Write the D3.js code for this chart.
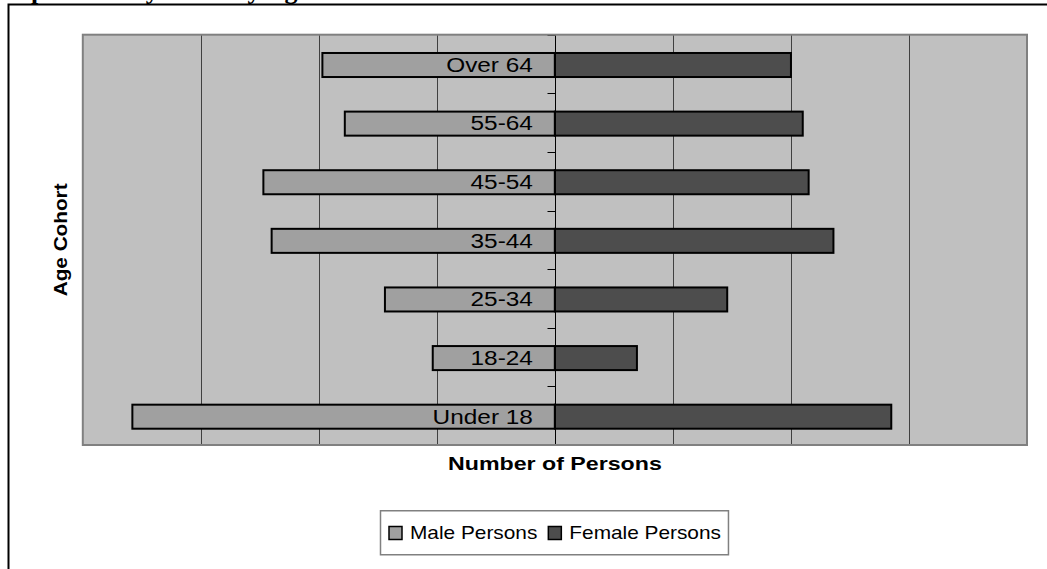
<!DOCTYPE html>
<html>
<head>
<meta charset="utf-8">
<script src="https://cdn.jsdelivr.net/npm/d3@7"></script>
<style>
  html, body { margin: 0; padding: 0; background: #fff; overflow: hidden; }
  text { font-family: "Liberation Sans", Arial, sans-serif; fill: #000; }
</style>
</head>
<body>
<svg id="chart" width="1047" height="569"></svg>
<script>
// Age cohorts, top to bottom
const categories = ["Over 64", "55-64", "45-54", "35-44", "25-34", "18-24", "Under 18"];
// Persons per cohort
const malePersons   = [1970, 1780, 2470, 2400, 1440, 1035, 3580];
const femalePersons = [2000, 2100, 2150, 2360, 1460,  695, 2850];
// Value axis gridline positions
const xTicks = [-4000, -3000, -2000, -1000, 0, 1000, 2000, 3000, 4000];
const seriesNames = ["Male Persons", "Female Persons"];
const seriesColors = ["#a0a0a0", "#4d4d4d"];

const svg = d3.select("#chart");
const W = 1047, H = 569;
const plot = { left: 82.8, right: 1027, top: 34.7, bottom: 445 };

// Widen a text run horizontally (the chart's type is set slightly wide);
// returns the resulting width
function widen(sel, k) {
  let total = 0;
  sel.each(function () {
    const w = this.getComputedTextLength() * k;
    this.setAttribute("textLength", w);
    this.setAttribute("lengthAdjust", "spacingAndGlyphs");
    total = w;
  });
  return total;
}

// Page title, running off the top edge
svg.append("text")
  .attr("x", 2).attr("y", -1)
  .style("font-family", "'Liberation Serif', 'Times New Roman', serif")
  .style("font-weight", "bold")
  .style("font-size", "26px")
  .text("Population Pyramid by Age Cohort");

// Outer chart frame
svg.append("rect")
  .attr("x", 8.5).attr("y", 4.5)
  .attr("width", W + 20).attr("height", H + 20)
  .attr("fill", "#fff")
  .attr("stroke", "#000").attr("stroke-width", 2);

const x = d3.scaleLinear().domain([-4000, 4000]).range([plot.left, plot.right]);
const y = d3.scaleBand().domain(categories)
  .range([plot.top, plot.bottom])
  .paddingInner(0.59).paddingOuter(0.295);

// Plot area background
svg.append("rect")
  .attr("x", plot.left).attr("y", plot.top)
  .attr("width", plot.right - plot.left).attr("height", plot.bottom - plot.top)
  .attr("fill", "#c0c0c0");

// Vertical gridlines
svg.append("g")
  .selectAll("line")
  .data(xTicks.filter(t => t !== 0 && Math.abs(t) < 4000))
  .join("line")
  .attr("x1", d => Math.round(x(d)) + 0.5).attr("x2", d => Math.round(x(d)) + 0.5)
  .attr("y1", plot.top).attr("y2", plot.bottom)
  .attr("stroke", "#404040").attr("stroke-width", 1);

// Bars
const rows = categories.map((c, i) => ({ c, m: malePersons[i], f: femalePersons[i] }));
const bars = svg.append("g");
bars.selectAll("rect.male")
  .data(rows).join("rect").attr("class", "male")
  .attr("x", d => x(-d.m)).attr("width", d => x(0) - x(-d.m))
  .attr("y", d => y(d.c) + 1).attr("height", y.bandwidth())
  .attr("fill", seriesColors[0]).attr("stroke", "#000").attr("stroke-width", 2);
bars.selectAll("rect.female")
  .data(rows).join("rect").attr("class", "female")
  .attr("x", x(0)).attr("width", d => x(d.f) - x(0))
  .attr("y", d => y(d.c) + 1).attr("height", y.bandwidth())
  .attr("fill", seriesColors[1]).attr("stroke", "#000").attr("stroke-width", 2);

// Category axis through zero, ticks between cohorts
const axisX = Math.round(x(0)) + 0.5;
const boundaries = categories.map(c => y(c) - y.step() * y.paddingInner() / 2)
  .concat([plot.bottom]);
boundaries[0] = plot.top;
const axis = svg.append("g");
axis.append("line")
  .attr("x1", axisX).attr("x2", axisX)
  .attr("y1", plot.top).attr("y2", plot.bottom)
  .attr("stroke", "#000").attr("stroke-width", 1);
axis.selectAll("line.tick")
  .data(boundaries).join("line").attr("class", "tick")
  .attr("x1", axisX - 8).attr("x2", axisX)
  .attr("y1", d => Math.round(d) + 0.5).attr("y2", d => Math.round(d) + 0.5)
  .attr("stroke", "#000").attr("stroke-width", 1);
const catLabels = axis.selectAll("text")
  .data(categories).join("text")
  .attr("x", x(0) - 22)
  .attr("y", d => y(d) + y.bandwidth() / 2 + 1)
  .attr("dy", "0.35em")
  .attr("text-anchor", "end")
  .style("font-size", "19.5px")
  .text(d => d);
widen(catLabels, 1.25);

// Plot area border
svg.append("rect")
  .attr("x", plot.left).attr("y", plot.top)
  .attr("width", plot.right - plot.left).attr("height", plot.bottom - plot.top)
  .attr("fill", "none").attr("stroke", "#808080").attr("stroke-width", 2);

// Axis titles
const xTitle = svg.append("text")
  .attr("x", x(0)).attr("y", 470)
  .attr("text-anchor", "middle")
  .style("font-weight", "bold").style("font-size", "19px")
  .text("Number of Persons");
widen(xTitle, 1.22);

const yTitle = svg.append("text")
  .attr("transform", "translate(66.5," + ((plot.top + plot.bottom) / 2) + ") rotate(-90)")
  .attr("text-anchor", "middle")
  .style("font-weight", "bold").style("font-size", "18.6px")
  .text("Age Cohort");
widen(yTitle, 1.115);

// Legend
const legend = svg.append("g");
const legendBox = legend.append("rect")
  .attr("fill", "#fff").attr("stroke", "#808080").attr("stroke-width", 1.5);
const legendItems = legend.append("g");
let cx = 0;
seriesNames.forEach((name, i) => {
  legendItems.append("rect")
    .attr("x", cx).attr("y", -6).attr("width", 13).attr("height", 13)
    .attr("fill", seriesColors[i]).attr("stroke", "#000").attr("stroke-width", 1.5);
  const t = legendItems.append("text")
    .attr("x", cx + 21).attr("y", 6.5)
    .style("font-size", "18.6px")
    .text(name);
  const w = widen(t, 1.12);
  cx += 21 + w + 11;
});
const contentW = cx - 11;
const boxW = contentW + 16;
const legendLeft = Math.round(x(0) - boxW / 2);
legendItems.attr("transform", "translate(" + (legendLeft + 8) + ",532.5)");
legendBox
  .attr("x", legendLeft - 0.5).attr("y", 510.75)
  .attr("width", boxW).attr("height", 44);
</script>
</body>
</html>
